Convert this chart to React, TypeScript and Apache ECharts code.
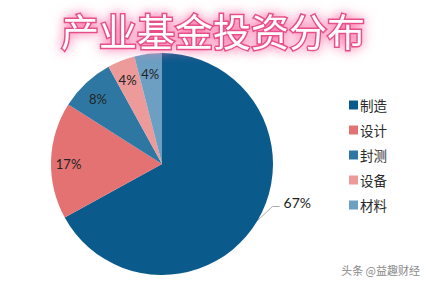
import React, { useEffect, useRef } from "react";
import * as echarts from "echarts";

const titleText = "产业基金投资分布";
const categories = ["制造", "设计", "封测", "设备", "材料"];
const values = [67, 17, 8, 4, 4];
const colors = ["#0a5a8c", "#e47272", "#2f77a3", "#ec9a9a", "#6c9fc2"];
const watermark = "头条 @益趣财经";

export default function App() {
  const ref = useRef<HTMLDivElement>(null);
  useEffect(() => {
    document.body.style.margin = "0";
    const chart = echarts.init(ref.current!, null, { renderer: "svg" });
    const mainData = categories.map((name, i) => ({
      name,
      value: values[i],
      itemStyle: { color: colors[i] },
      label: { show: i === 0 },
      labelLine: { show: i === 0 },
    }));
    const overlayData = categories.map((name, i) => ({
      name,
      value: values[i],
      itemStyle: { color: "rgba(0,0,0,0)" },
      label: { show: i !== 0 },
    }));
    chart.setOption({
      animation: false,
      backgroundColor: "#ffffff",
      title: {
        text: titleText,
        left: "center",
        top: 5,
        textStyle: {
          color: "#ffffff",
          fontSize: 38,
          fontWeight: "normal",
          fontFamily: "Noto Sans CJK SC",
          textBorderColor: "#e8508a",
          textBorderWidth: 3,
          textShadowColor: "#ff6fa6",
          textShadowBlur: 12,
        },
      },
      legend: {
        orient: "vertical",
        left: 344,
        top: 93,
        itemWidth: 9,
        itemHeight: 9,
        itemGap: 11,
        icon: "rect",
        data: categories,
        textStyle: {
          color: "#2a2a2a",
          fontSize: 13.5,
          lineHeight: 14,
          fontFamily: "Noto Sans CJK SC",
          padding: [0, 0, 0, -3],
        },
      },
      graphic: [
        {
          type: "text",
          right: 6,
          top: 264,
          style: {
            text: watermark,
            fill: "#8a8a8a",
            fontSize: 11,
            fontFamily: "Noto Sans CJK SC",
          },
        },
      ],
      series: [
        {
          type: "pie",
          center: [162, 164],
          radius: [0, 111],
          startAngle: 90,
          clockwise: true,
          data: mainData,
          label: {
            position: "outside",
            formatter: "{d}%",
            color: "#222",
            fontSize: 14,
            fontFamily: "Lato",
          },
          labelLine: {
            length: 9,
            length2: 6,
            lineStyle: { color: "#aaaaaa", width: 1 },
          },
          labelLayout: (params: any) => {
            const pts = params.labelLinePoints;
            if (!pts || !pts.length) return {};
            const s = pts[0];
            return {
              x: s[0] + 26,
              y: s[1] - 18,
              align: "left",
              verticalAlign: "middle",
              labelLinePoints: [
                [s[0], s[1]],
                [s[0] + 15, s[1] - 14],
                [s[0] + 22, s[1] - 14],
              ],
            };
          },
        },
        {
          type: "pie",
          center: [162, 167],
          radius: [70, 111],
          startAngle: 90,
          clockwise: true,
          silent: true,
          data: overlayData,
          label: {
            position: "inside",
            formatter: "{d}%",
            color: "#222",
            fontSize: 13,
            fontFamily: "Lato",
          },
          labelLine: { show: false },
        },
      ],
    });
    return () => chart.dispose();
  }, []);
  return (
    <div
      ref={ref}
      style={{ position: "fixed", left: 0, top: 0, width: 426, height: 281 }}
    />
  );
}
